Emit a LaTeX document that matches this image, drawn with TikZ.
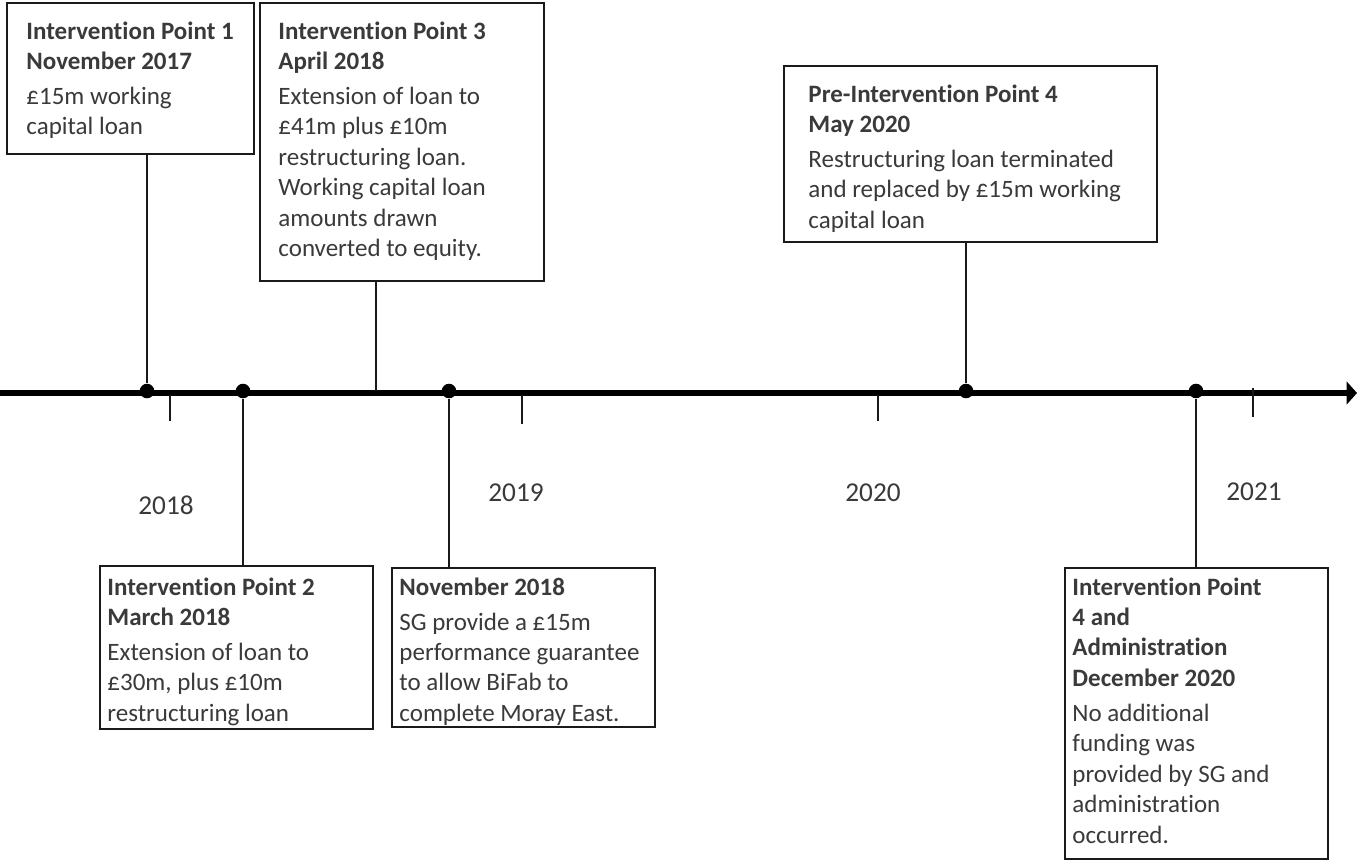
\documentclass[tikz,border=0pt]{standalone}
\usepackage{fontspec}
\setmainfont{Carlito}[Ligatures={NoCommon}]
\usetikzlibrary{arrows.meta,fit}
\definecolor{txtc}{HTML}{3A3A3A}
\definecolor{linec}{HTML}{1A1A1A}
\begin{document}
\begin{tikzpicture}[x=0.44pt,y=-0.44pt,
  box/.style={draw=linec, line width=0.7pt, inner sep=0pt},
  txt/.style={anchor=north west, inner sep=0pt, align=left, text=txtc, font=\fontsize{11}{13.4}\selectfont},
  year/.style={inner sep=0pt, text=txtc, font=\fontsize{12}{14}\selectfont},
  conn/.style={draw=linec, line width=0.65pt},
  dot/.style={circle, fill=black, inner sep=0pt, minimum size=6.4pt},
  tickmark/.style={draw=linec, line width=0.6pt}]
\useasboundingbox (0,0) rectangle (1357,861);
\fill[white] (0,0) rectangle (1357,861);

% timeline
\coordinate (L) at (0,393);
\coordinate (R) at (1357,393);
\draw[black, line width=2.5pt, -{Triangle[length=4.6pt,width=10pt]}] (L) -- (R);

% ticks
\draw[tickmark] (170,395) -- (170,421);
\draw[tickmark] (522,395) -- (522,424);
\draw[tickmark] (878,395) -- (878,421);
\draw[tickmark] (1253,388) -- (1253,417);

% years
\node[year] (y18) at (166,505) {2018};
\node[year] (y19) at (516,493) {2019};
\node[year] (y20) at (873,493) {2020};
\node[year] (y21) at (1254,492) {2021};

% dots
\node[dot] (d1) at (147,391) {};
\node[dot] (d2) at (243,391) {};
\node[dot] (d3) at (449,391) {};
\node[dot] (d4) at (966,391) {};
\node[dot] (d5) at (1196,391) {};
\coordinate (c3) at (376,391);

% boxes
\node[box, fit={(7,3) (254,154)}] (b1) {};
\node[txt] (t1) at (26,21) {\textbf{Intervention Point 1}\\\textbf{November 2017}\\[2pt]£15m working\\capital loan};

\node[box, fit={(260,3) (544,281)}] (b3) {};
\node[txt] (t3) at (278,21) {\textbf{Intervention Point 3}\\\textbf{April 2018}\\[2pt]Extension of loan to\\£41m plus £10m\\restructuring loan.\\Working capital loan\\amounts drawn\\converted to equity.};

\node[box, fit={(784,66) (1157,242)}] (b4) {};
\node[txt] (t4) at (808,84) {\textbf{Pre-Intervention Point 4}\\\textbf{May 2020}\\[2pt]Restructuring loan terminated\\and replaced by £15m working\\capital loan};

\node[box, fit={(100,566) (373,729)}] (b2) {};
\node[txt] (t2) at (107,577) {\textbf{Intervention Point 2}\\\textbf{March 2018}\\[2pt]Extension of loan to\\£30m, plus £10m\\restructuring loan};

\node[box, fit={(392,568) (655,727)}] (b5) {};
\node[txt] (t5) at (399,577) {\textbf{November 2018}\\[2pt]SG provide a £15m\\performance guarantee\\to allow BiFab to\\complete Moray East.};

\node[box, fit={(1065,568) (1328,859)}] (b6) {};
\node[txt] (t6) at (1072,577) {\textbf{Intervention Point}\\\textbf{4 and}\\\textbf{Administration}\\\textbf{December 2020}\\[2pt]No additional\\funding was\\provided by SG and\\administration\\occurred.};

% connectors
\draw[conn] (d1 |- b1.south) -- (d1);
\draw[conn] (c3 |- b3.south) -- (c3);
\draw[conn] (d4 |- b4.south) -- (d4);
\draw[conn] (d2) -- (d2 |- b2.north);
\draw[conn] (d3) -- (d3 |- b5.north);
\draw[conn] (d5) -- (d5 |- b6.north);
\end{tikzpicture}
\end{document}
